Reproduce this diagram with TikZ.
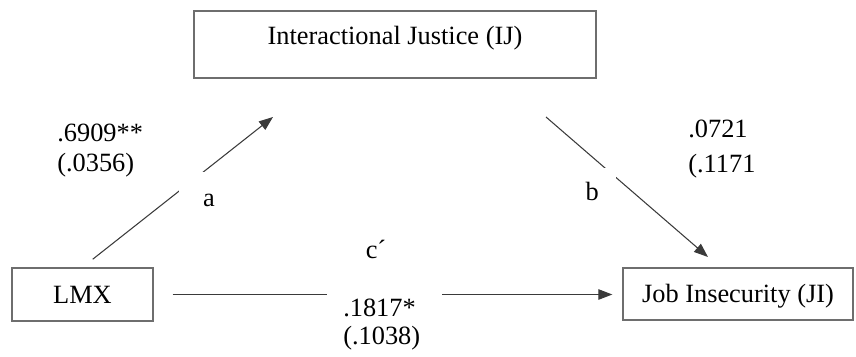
\documentclass[tikz,border=0pt]{standalone}
\usepackage{fontspec}
\setmainfont{Liberation Serif}
\usetikzlibrary{arrows.meta, positioning, calc}
\definecolor{boxline}{HTML}{6E6E6E}
\definecolor{arrowline}{HTML}{3A3A3A}

\begin{document}
\begin{tikzpicture}[x=0.02cm, y=0.02cm,
    font=\fontsize{15}{17}\selectfont,
    varbox/.style={draw=boxline, line width=0.8pt, inner sep=0pt,
                   text height=10pt, text depth=0pt},
    link/.style={draw=arrowline, line width=0.6pt,
                 -{Triangle[length=8pt, width=6pt]}},
    gapbox/.style={fill=white, inner ysep=4pt, text depth=0pt}]
  \useasboundingbox (0,0) rectangle (856,356);
  % variables
  \node[varbox, minimum width=8.04cm, minimum height=1.34cm, text depth=10pt]
    (ij) at (395,311.5) {Interactional Justice (IJ)};
  \node[varbox, minimum width=2.82cm, minimum height=1.06cm]
    (lmx) at (82.5,61.5) {LMX};
  \node[varbox, minimum width=4.6cm, minimum height=1.04cm]
    (ji) at (738,62) {Job Insecurity (JI)};
  % free ends of the paths
  \coordinate (atip) at (273,239);
  \coordinate (btail) at (546,239);
  \coordinate (btip) at (708,99);
  \draw[link, shorten <=0.26cm] (lmx.north) -- (atip);
  \draw[link] (btail) -- (btip);
  \draw[link, shorten <=0.38cm, shorten >=0.2cm]
    (lmx.east) -- (lmx.east -| ji.west);
  % path labels
  \node[gapbox, anchor=base west, inner xsep=13.6pt, text height=15.3pt]
    (alab) at (179,150) {a};
  \node[gapbox, anchor=base east, inner xsep=9.6pt, text height=14.1pt]
    (blab) at (616,156) {b};
  \node[anchor=base] (clab) at (376,98) {c´};
  \node[anchor=north west, inner sep=0pt, align=left]
    (acoef) at (57,232) {.6909**\\(.0356)};
  \node[anchor=north west, inner sep=0pt, align=left]
    (bcoef) at (688,236) {.0721\\[2.8pt](.1171};
  \node[fill=white, anchor=north west, inner xsep=9.07pt, inner ysep=9pt,
        text width=1.66cm, align=left]
    (ccoef) at (327,73) {.1817*\\[-1.1pt](.1038)};
\end{tikzpicture}
\end{document}
